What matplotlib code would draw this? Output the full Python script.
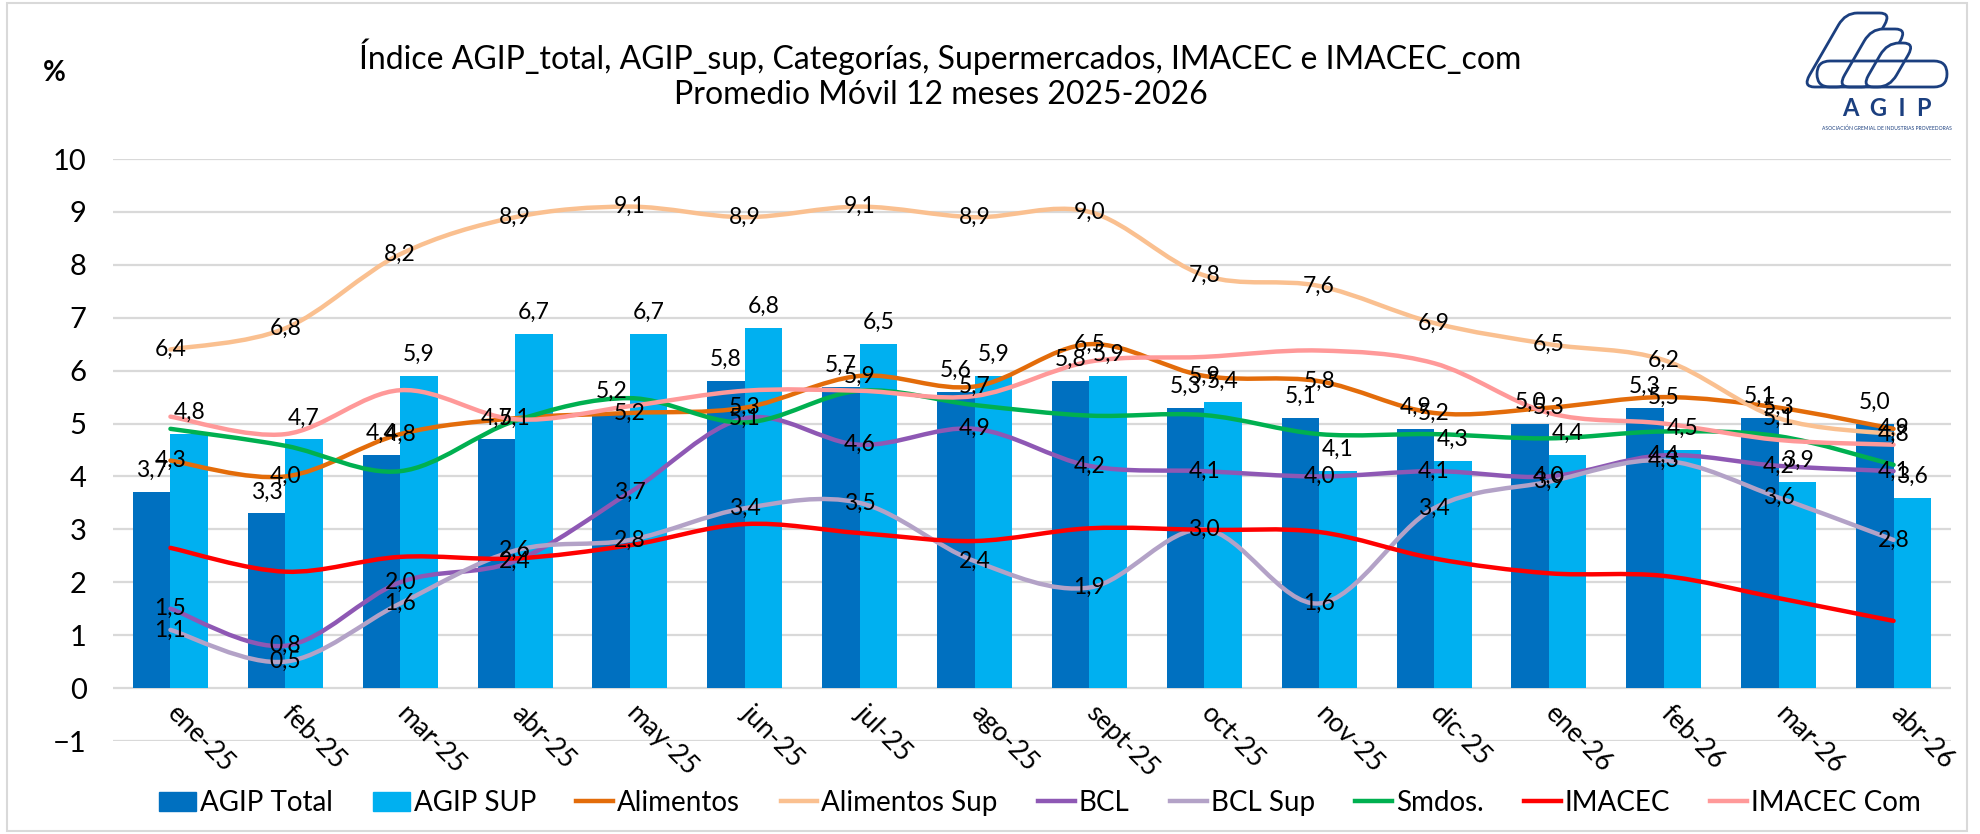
import matplotlib
matplotlib.use('Agg')
import matplotlib.pyplot as plt
from matplotlib.path import Path
from matplotlib.patches import PathPatch, Patch, Rectangle, FancyBboxPatch
from matplotlib.lines import Line2D
from matplotlib.transforms import Affine2D
import numpy as np

plt.rcParams['font.family'] = ['Lato', 'DejaVu Sans']

categories = ['ene-25', 'feb-25', 'mar-25', 'abr-25', 'may-25', 'jun-25', 'jul-25', 'ago-25',
              'sept-25', 'oct-25', 'nov-25', 'dic-25', 'ene-26', 'feb-26', 'mar-26', 'abr-26']
agip_total = [3.7, 3.3, 4.4, 4.7, 5.2, 5.8, 5.7, 5.6, 5.8, 5.3, 5.1, 4.9, 5.0, 5.3, 5.1, 5.0]
agip_sup = [4.8, 4.7, 5.9, 6.7, 6.7, 6.8, 6.5, 5.9, 5.9, 5.4, 4.1, 4.3, 4.4, 4.5, 3.9, 3.6]
alimentos = [4.3, 4.0, 4.8, 5.1, 5.2, 5.3, 5.9, 5.7, 6.5, 5.9, 5.8, 5.2, 5.3, 5.5, 5.3, 4.9]
alimentos_sup = [6.4, 6.8, 8.2, 8.9, 9.1, 8.9, 9.1, 8.9, 9.0, 7.8, 7.6, 6.9, 6.5, 6.2, 5.1, 4.8]
bcl = [1.5, 0.8, 2.0, 2.4, 3.7, 5.1, 4.6, 4.9, 4.2, 4.1, 4.0, 4.1, 4.0, 4.4, 4.2, 4.1]
bcl_sup = [1.1, 0.5, 1.6, 2.6, 2.8, 3.4, 3.5, 2.4, 1.9, 3.0, 1.6, 3.4, 3.9, 4.3, 3.6, 2.8]
smdos = [4.9, 4.58, 4.1, 5.05, 5.48, 5.02, 5.62, 5.35, 5.15, 5.16, 4.8, 4.8, 4.72, 4.85, 4.76, 4.22]
imacec = [2.65, 2.2, 2.48, 2.45, 2.7, 3.1, 2.93, 2.78, 3.02, 2.99, 2.95, 2.45, 2.17, 2.12, 1.7, 1.27]
imacec_com = [5.13, 4.8, 5.63, 5.08, 5.33, 5.62, 5.62, 5.52, 6.17, 6.26, 6.38, 6.14, 5.2, 5.0, 4.69, 4.6]

# (name, values, colour, labelled)
lines = [
    ('Alimentos', alimentos, '#E36C0A', True),
    ('Alimentos Sup', alimentos_sup, '#FAC090', True),
    ('BCL', bcl, '#8E58B4', True),
    ('BCL Sup', bcl_sup, '#B3A2C7', True),
    ('Smdos.', smdos, '#00B050', False),
    ('IMACEC', imacec, '#FF0000', False),
    ('IMACEC Com', imacec_com, '#FF9999', False),
]
bars = [('AGIP Total', agip_total, '#0070C0'), ('AGIP SUP', agip_sup, '#00B0F0')]


def smooth_path(x, y):
    # bezier through the points, like Excel's smoothed line
    n = len(x)
    verts = [(x[0], y[0])]
    codes = [Path.MOVETO]
    for i in range(n - 1):
        a = max(i - 1, 0)
        b = min(i + 2, n - 1)
        c1 = (x[i] + (x[i + 1] - x[a]) / 6, y[i] + (y[i + 1] - y[a]) / 6)
        c2 = (x[i + 1] - (x[b] - x[i]) / 6, y[i + 1] - (y[b] - y[i]) / 6)
        verts += [c1, c2, (x[i + 1], y[i + 1])]
        codes += [Path.CURVE4] * 3
    return Path(verts, codes)


def fmt(v):
    return f'{v:.1f}'.replace('.', ',')


W, H = 1980, 834
fig = plt.figure(figsize=(W / 100, H / 100), dpi=100)
ax = fig.add_axes([113 / W, 1 - 741 / H, (1951 - 113) / W, (741 - 159) / H])

x = np.arange(len(categories))
bw = 0.326
for k, (name, vals, col) in enumerate(bars):
    pos = x + (k - 0.5) * bw
    ax.bar(pos, vals, width=bw, color=col, zorder=2)
    for p, v in zip(pos, vals):
        ax.annotate(fmt(v), (p, v), xytext=(0, 15.5), textcoords='offset points',
                    ha='center', va='center', fontsize=16.5, zorder=10)

for name, vals, col, lab in lines:
    ax.add_patch(PathPatch(smooth_path(x, vals), facecolor='none', edgecolor=col,
                           lw=3.2, capstyle='round', zorder=3))

for name, vals, col, lab in lines:
    if lab:
        for xi, v in zip(x, vals):
            ax.text(xi, v, fmt(v), ha='center', va='center', fontsize=16.5, zorder=10)

ax.set_xlim(-0.5, len(categories) - 0.5)
ax.set_ylim(-1, 10)
ax.set_yticks(range(-1, 11))
ax.yaxis.grid(True, color='#D9D9D9', lw=1.6)
ax.set_axisbelow(True)
ax.tick_params(axis='y', length=0, pad=19, labelsize=21)
ax.set_xticks([])
for s in ax.spines.values():
    s.set_visible(False)

for xi, c in zip(x, categories):
    ax.annotate(c, (xi, 0), xytext=(-6, -9), textcoords='offset points',
                rotation=-45, ha='left', va='top', fontsize=19)

fig.text(940 / W, 1 - 57 / H, 'Índice AGIP_total, AGIP_sup, Categorías, Supermercados, IMACEC e IMACEC_com',
         ha='center', va='center', fontsize=23)
fig.text(941 / W, 1 - 95 / H, 'Promedio Móvil 12 meses 2025-2026', ha='center', va='center', fontsize=23)
fig.text(54 / W, 1 - 73 / H, '%', ha='center', va='center', fontsize=20, fontweight='bold')

handles = [Patch(color=c) for _, _, c in bars] + [Line2D([], [], color=c, lw=3.2) for _, _, c, _ in lines]
labels = [n for n, _, _ in bars] + [n for n, _, _, _ in lines]
fig.legend(handles, labels, ncol=9, loc='center', bbox_to_anchor=(1040 / W, 1 - 803 / H),
           frameon=False, fontsize=20, handlelength=1.32, handletextpad=0.15, columnspacing=1.45)

fig.add_artist(Rectangle((7 / W, 3 / H), (1967 - 7) / W, (831 - 3) / H, transform=fig.transFigure,
                         fill=False, edgecolor='#D9D9D9', lw=1.5))

# logo
navy = '#1B3F7F'
lg = fig.add_axes([1805 / W, 1 - 135 / H, 155 / W, 130 / H])
lg.set_xlim(0, 155)
lg.set_ylim(130, 0)
lg.axis('off')
sk = Affine2D().skew_deg(-30, 0)
for x0, y0, w, h in [(45, 8, 46, 74), (80, 24, 36, 58), (104, 38, 28, 44)]:
    lg.add_patch(FancyBboxPatch((x0, y0), w, h, boxstyle='round,pad=0,rounding_size=12',
                                fc='white', ec=navy, lw=2, transform=sk + lg.transData))
lg.add_patch(FancyBboxPatch((12, 56), 130, 26, boxstyle='round,pad=0,rounding_size=13',
                            fc='none', ec=navy, lw=2))
lg.text(82, 104, 'A  G  I  P', ha='center', va='center', fontsize=17, fontweight='bold', color=navy)
lg.text(82, 123, 'ASOCIACIÓN GREMIAL DE INDUSTRIAS PROVEEDORAS', ha='center', va='center',
        fontsize=3.6, color=navy)

fig.savefig('out.png', dpi=100)
